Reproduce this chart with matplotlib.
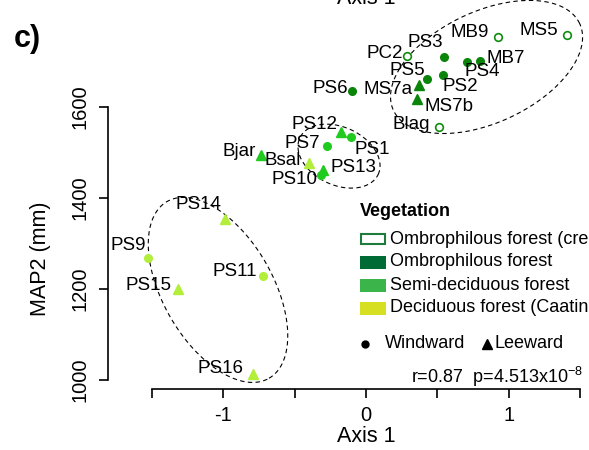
import matplotlib
matplotlib.use('Agg')
import matplotlib.pyplot as plt
import numpy as np
from matplotlib.patches import Rectangle
from matplotlib.lines import Line2D

plt.rcParams['font.family'] = ['Liberation Sans', 'DejaVu Sans']
plt.rcParams['mathtext.fontset'] = 'custom'
plt.rcParams['mathtext.rm'] = 'Liberation Sans'

# data
sites = ['MS5', 'MB9', 'PC2', 'Blag', 'PS3', 'PS4', 'MB7', 'PS5', 'PS2', 'PS6',
         'MS7a', 'MS7b', 'PS12', 'PS1', 'PS7', 'Bjar', 'PS13', 'PS10', 'Bsal',
         'PS14', 'PS9', 'PS15', 'PS11', 'PS16']
axis1 = [1.41, 0.925, 0.29, 0.51, 0.55, 0.71, 0.80, 0.43, 0.54, -0.10,
         0.37, 0.36, -0.175, -0.105, -0.27, -0.735, -0.30, -0.315, -0.40,
         -0.99, -1.53, -1.32, -0.72, -0.79]
map2 = [1758, 1754, 1712, 1556, 1710, 1699, 1701, 1662, 1670, 1635,
        1648, 1618, 1545, 1534, 1514, 1495, 1462, 1451, 1477,
        1354, 1268, 1200, 1229, 1013]
veg = ['crest'] * 4 + ['ombro'] * 8 + ['semi'] * 6 + ['caat'] * 6
side = ['W', 'W', 'W', 'W', 'W', 'W', 'W', 'W', 'W', 'W',
        'L', 'L', 'L', 'W', 'W', 'L', 'L', 'W', 'L',
        'L', 'W', 'L', 'W', 'L']

veg_labels = ['Ombrophilous forest (crest)', 'Ombrophilous forest',
              'Semi-deciduous forest', 'Deciduous forest (Caatinga)']

# label offsets in pixels (dx, dy down) and alignment
lab_pos = {
    'MS5': (-9, -5, 'right'), 'MB9': (-9, -4, 'right'), 'PC2': (-4, -3, 'right'),
    'Blag': (-9, -3, 'right'), 'PS3': (-19, -14, 'center'), 'PS4': (15, 10, 'center'),
    'MB7': (6, -3, 'left'), 'PS5': (-2, -8, 'right'), 'PS2': (17, 11, 'center'),
    'PS6': (-4, -3, 'right'), 'MS7a': (-6, 4, 'right'), 'MS7b': (7, 8, 'left'),
    'PS12': (-4, -8, 'right'), 'PS1': (4, 12, 'left'), 'PS7': (-7, -3, 'right'),
    'Bjar': (-5, -3, 'right'), 'PS13': (7, -2, 'left'), 'PS10': (-4, 5, 'right'),
    'Bsal': (-8, -2, 'right'), 'PS14': (-3, -14, 'right'), 'PS9': (-2, -13, 'right'),
    'PS15': (-6, -3, 'right'), 'PS11': (-6, -4, 'right'), 'PS16': (-10, -6, 'right'),
}

pt_col = {'crest': '#0e8c0e', 'ombro': '#0a850a', 'semi': '#1ecb1e', 'caat': '#b2ee3a'}
leg_col = ['#1e7b3c', '#006b35', '#3bb54a', '#d7df23']

# ellipses: centre x, centre y, semi axes (axis1 units), angle
ellipses = [(0.845, 1688, 0.72, 0.39, 25),
            (-0.189, 1492, 0.303, 0.203, -25),
            (-1.037, 1198, 0.715, 0.385, -60)]

W, H = 589, 450
fig = plt.figure(figsize=(W / 100, H / 100), dpi=100)
ax = fig.add_axes([108 / W, 61 / H, 481 / W, 389 / H])
ax.set_xlim(-1.808, 1.563)
ax.set_ylim(980.2, 1835.2)

for s in ['top', 'right']:
    ax.spines[s].set_visible(False)
ax.spines['left'].set_bounds(1000, 1600)
ax.spines['bottom'].set_bounds(-1.5, 1.5)
for s in ['left', 'bottom']:
    ax.spines[s].set_linewidth(1.2)
ax.set_xticks([-1.5, -1, -0.5, 0, 0.5, 1, 1.5])
ax.set_xticklabels(['', '-1', '', '0', '', '1', ''])
ax.set_yticks([1000, 1200, 1400, 1600])
ax.tick_params(direction='out', length=6.5, width=1.2, labelsize=14.5, pad=5.5)
ax.tick_params(axis='y', labelrotation=90, pad=6.5)
for t in ax.get_yticklabels():
    t.set_va('center')
ax.set_xlabel('Axis 1', fontsize=15.5)
ax.xaxis.set_label_coords(0.536, -0.095)
ax.set_ylabel('MAP2 (mm)', fontsize=15.5)
ax.yaxis.set_label_coords(-0.118, 0.335)

# aspect between the two axes in pixels
p0 = ax.transData.transform((0, 1000))
p1 = ax.transData.transform((1, 1600))
k = (p1[0] - p0[0]) / ((p1[1] - p0[1]) / 600)

t = np.linspace(0, 2 * np.pi, 300)
for cx, cy, a, b, ang in ellipses:
    th = np.radians(ang)
    u = a * np.cos(t) * np.cos(th) - b * np.sin(t) * np.sin(th)
    v = a * np.cos(t) * np.sin(th) + b * np.sin(t) * np.cos(th)
    ax.plot(cx + u, cy + v * k, ls=(0, (4, 3)), color='black', lw=0.8)

for x, y, g, sd, name in zip(axis1, map2, veg, side, sites):
    if sd == 'W':
        if g == 'crest':
            ax.plot(x, y, 'o', ms=5.5, mfc='white', mec=pt_col[g], mew=1.2)
        else:
            ax.plot(x, y, 'o', ms=5.5, color=pt_col[g])
    else:
        ax.plot(x, y, '^', ms=7, color=pt_col[g])
    dx, dy, ha = lab_pos[name]
    ax.annotate(name, (x, y), xytext=(dx * 0.72, -dy * 0.72), textcoords='offset points',
                ha=ha, va='center', fontsize=13.5)


def fx(px):
    return px / W


def fy(py):
    return 1 - py / H


fig.text(fx(14), fy(39), 'c)', fontsize=22, weight='bold', va='center')
fig.text(fx(366), fy(4), 'Axis 1', fontsize=15.5, ha='center', va='baseline')

# legend
fig.text(fx(360), fy(211), 'Vegetation', fontsize=13, weight='bold', va='center')
for i, (lab, c) in enumerate(zip(veg_labels, leg_col)):
    yc = 239 + 23 * i
    if i == 0:
        r = Rectangle((fx(361), fy(yc + 5)), 24 / W, 10 / H, transform=fig.transFigure,
                      facecolor='white', edgecolor=c, lw=1.5)
    else:
        r = Rectangle((fx(360), fy(yc + 6.5)), 26 / W, 13 / H, transform=fig.transFigure,
                      facecolor=c, edgecolor='none')
    fig.add_artist(r)
    fig.text(fx(390), fy(yc), lab, fontsize=13, va='center')

fig.add_artist(Line2D([fx(365)], [fy(344)], marker='o', ms=5, color='black',
                      transform=fig.transFigure))
fig.text(fx(385), fy(344), 'Windward', fontsize=13, va='center')
fig.add_artist(Line2D([fx(487)], [fy(344)], marker='^', ms=7, color='black',
                      transform=fig.transFigure))
fig.text(fx(495), fy(344), 'Leeward', fontsize=13, va='center')
fig.text(fx(583), fy(383), r'r=0.87  p=4.513x10$^{-8}$', fontsize=13,
         ha='right', va='baseline')

fig.savefig('out.png', dpi=100)
